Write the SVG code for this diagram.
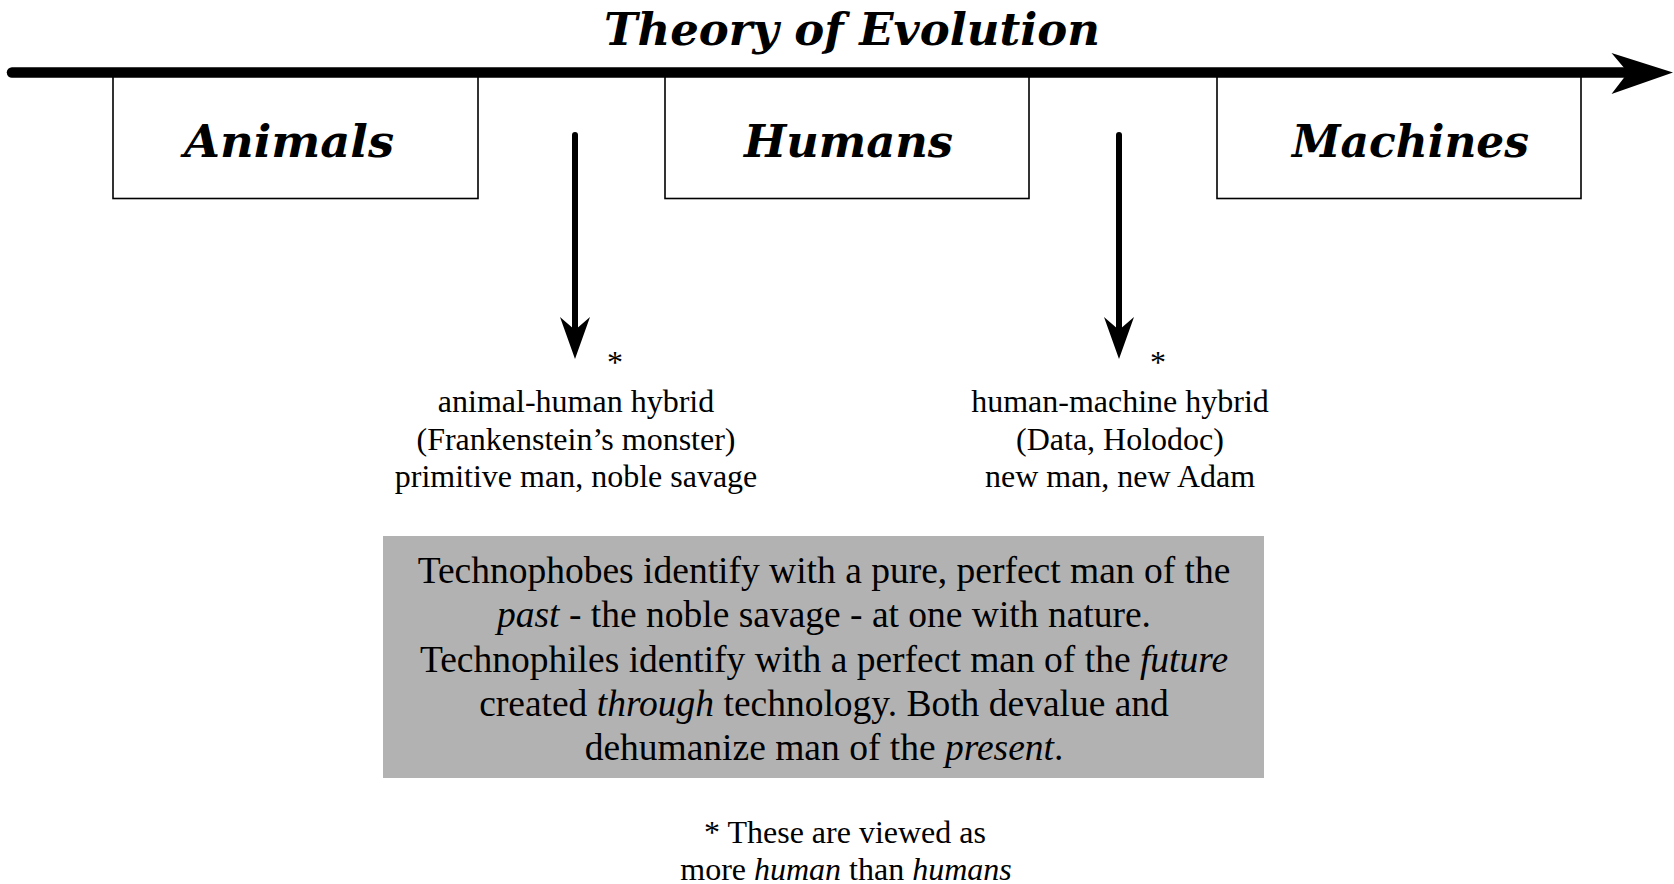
<svg xmlns="http://www.w3.org/2000/svg" width="1674" height="884" viewBox="0 0 1674 884">
<style>
.head{font-family:"DejaVu Serif","Liberation Serif",serif;font-weight:bold;font-style:italic;font-size:44px;fill:#000}
.body{font-family:"Liberation Serif","Times New Roman",serif;font-size:32px;fill:#000}
.note{font-family:"Liberation Serif","Times New Roman",serif;font-size:37.5px;fill:#000}
.box{fill:#fff;stroke:#000;stroke-width:1.6}
.it{font-style:italic}
</style>
<rect width="1674" height="884" fill="#fff"/>
<g id="title">
<text class="head" x="852" y="45" text-anchor="middle" textLength="496" lengthAdjust="spacingAndGlyphs">Theory of Evolution</text>
</g>
<g id="node-animals">
<rect class="box" x="113" y="72" width="365" height="126.5"/>
<text class="head" x="289" y="157" text-anchor="middle" textLength="210" lengthAdjust="spacingAndGlyphs">Animals</text>
</g>
<g id="node-humans">
<rect class="box" x="665" y="72" width="364" height="126.5"/>
<text class="head" x="848.5" y="157" text-anchor="middle" textLength="209" lengthAdjust="spacingAndGlyphs">Humans</text>
</g>
<g id="node-machines">
<rect class="box" x="1217" y="72" width="364" height="126.5"/>
<text class="head" x="1410.5" y="157" text-anchor="middle" textLength="237" lengthAdjust="spacingAndGlyphs">Machines</text>
</g>
<g id="connectors">
<line x1="12" y1="72.5" x2="1630" y2="72.5" stroke="#000" stroke-width="10.5" stroke-linecap="round"/>
<path d="M1673,72.5 L1611.5,53 L1628,72.5 L1611.5,94 Z" fill="#000"/>
<line x1="575" y1="135" x2="575" y2="335" stroke="#000" stroke-width="6" stroke-linecap="round"/>
<path d="M575,359 L560,317 L575,330 L590,317 Z" fill="#000"/>
<line x1="1119" y1="135" x2="1119" y2="335" stroke="#000" stroke-width="6" stroke-linecap="round"/>
<path d="M1119,359 L1104,317 L1119,330 L1134,317 Z" fill="#000"/>
</g>
<g id="node-animal-human-hybrid">
<text class="body" x="615" y="373" text-anchor="middle">*</text>
<text class="body" x="576" y="412" text-anchor="middle">animal-human hybrid</text>
<text class="body" x="576" y="449.5" text-anchor="middle">(Frankenstein’s monster)</text>
<text class="body" x="576" y="487" text-anchor="middle">primitive man, noble savage</text>
</g>
<g id="node-human-machine-hybrid">
<text class="body" x="1158" y="373" text-anchor="middle">*</text>
<text class="body" x="1120" y="412" text-anchor="middle">human-machine hybrid</text>
<text class="body" x="1120" y="449.5" text-anchor="middle">(Data, Holodoc)</text>
<text class="body" x="1120" y="487" text-anchor="middle">new man, new Adam</text>
</g>
<g id="node-summary">
<rect x="383" y="536" width="881" height="242" fill="#b2b2b2"/>
<text class="note" x="824" y="583" text-anchor="middle">Technophobes identify with a pure, perfect man of the</text>
<text class="note" x="824" y="627" text-anchor="middle"><tspan class="it">past</tspan> - the noble savage - at one with nature.</text>
<text class="note" x="824" y="671.5" text-anchor="middle">Technophiles identify with a perfect man of the <tspan class="it">future</tspan></text>
<text class="note" x="824" y="715.5" text-anchor="middle">created <tspan class="it">through</tspan> technology. Both devalue and</text>
<text class="note" x="824" y="760" text-anchor="middle">dehumanize man of the <tspan class="it">present</tspan>.</text>
</g>
<g id="node-footnote">
<text class="body" x="845" y="843" text-anchor="middle">* These are viewed as</text>
<text class="body" x="846" y="880" text-anchor="middle">more <tspan class="it">human</tspan> than <tspan class="it">humans</tspan></text>
</g>
</svg>
